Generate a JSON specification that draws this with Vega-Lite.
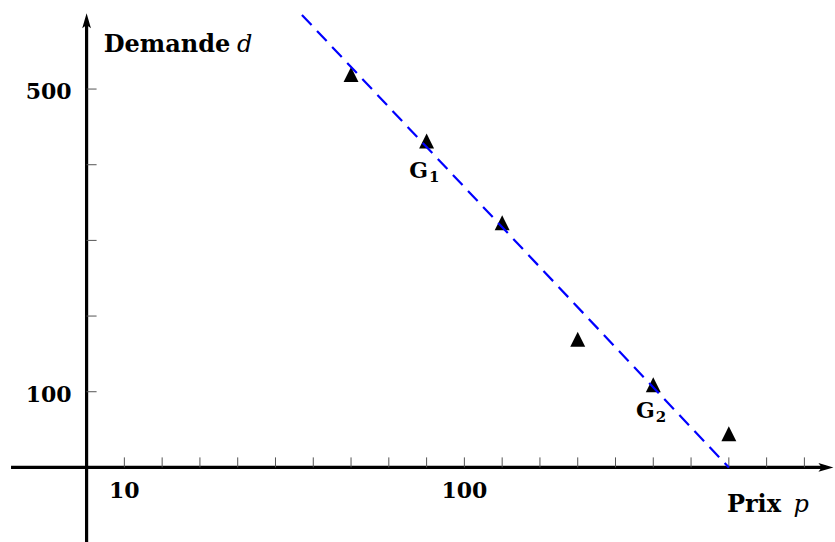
{
  "$schema": "https://vega.github.io/schema/vega-lite/v6.json",
  "width": 835,
  "height": 542,
  "autosize": {"type": "none"},
  "padding": 0,
  "background": "white",
  "config": {"view": {"stroke": null}},
  "datasets": {
    "pts": [
      {"p": 70, "d": 518},
      {"p": 90, "d": 430},
      {"p": 110, "d": 322},
      {"p": 130, "d": 168},
      {"p": 150, "d": 108},
      {"p": 170, "d": 43}
    ],
    "fit": [
      {"p": 57, "d": 598},
      {"p": 170, "d": 0}
    ],
    "xaxis": [{"p": -20, "p2": 195.7, "d": 0}],
    "yaxis": [{"p": 0, "d": -99, "d2": 590.2}],
    "xend": [{"p": 195.7, "d": 0}],
    "yend": [{"p": 0, "d": 590.2}],
    "xticks": [
      {"p": 10, "d": 0}, {"p": 20, "d": 0}, {"p": 30, "d": 0}, {"p": 40, "d": 0},
      {"p": 50, "d": 0}, {"p": 60, "d": 0}, {"p": 70, "d": 0}, {"p": 80, "d": 0},
      {"p": 90, "d": 0}, {"p": 100, "d": 0}, {"p": 110, "d": 0}, {"p": 120, "d": 0},
      {"p": 130, "d": 0}, {"p": 140, "d": 0}, {"p": 150, "d": 0}, {"p": 160, "d": 0},
      {"p": 170, "d": 0}, {"p": 180, "d": 0}, {"p": 190, "d": 0}
    ],
    "yticks": [
      {"p": 0, "d": 100}, {"p": 0, "d": 200}, {"p": 0, "d": 300},
      {"p": 0, "d": 400}, {"p": 0, "d": 500}
    ],
    "xlabels": [{"p": 10, "d": 0, "t": "10"}, {"p": 100, "d": 0, "t": "100"}],
    "ylabels": [{"p": 0, "d": 100, "t": "100"}, {"p": 0, "d": 500, "t": "500"}],
    "gpts": [
      {"p": 90, "d": 423.3, "g": "G", "s": "1"},
      {"p": 150, "d": 106.3, "g": "G", "s": "2"}
    ]
  },
  "encoding": {
    "x": {"field": "p", "type": "quantitative", "scale": {"domain": [-22.92, 198.1], "nice": false, "zero": false}, "axis": null},
    "y": {"field": "d", "type": "quantitative", "scale": {"domain": [-98.6, 617.7], "nice": false, "zero": false}, "axis": null}
  },
  "layer": [
    {"data": {"name": "xaxis"}, "mark": {"type": "rule", "color": "black", "strokeWidth": 3.2}, "encoding": {"x2": {"field": "p2"}}},
    {"data": {"name": "yaxis"}, "mark": {"type": "rule", "color": "black", "strokeWidth": 3.2}, "encoding": {"y2": {"field": "d2"}}},
    {"data": {"name": "xticks"}, "mark": {"type": "point", "shape": "M0,0L0,-1", "size": 400, "filled": false, "color": "#555555", "strokeWidth": 1, "opacity": 1}},
    {"data": {"name": "yticks"}, "mark": {"type": "point", "shape": "M0,0L1,0", "size": 400, "filled": false, "color": "#555555", "strokeWidth": 1, "opacity": 1}},
    {"data": {"name": "yend"}, "mark": {"type": "point", "shape": "M0,-1L0.58,1L0,0.56L-0.58,1Z", "size": 225, "filled": true, "color": "black", "opacity": 1, "strokeWidth": 0}},
    {"data": {"name": "xend"}, "mark": {"type": "point", "shape": "M1,0L-1,0.58L-0.56,0L-1,-0.58Z", "size": 225, "filled": true, "color": "black", "opacity": 1, "strokeWidth": 0}},
    {"data": {"name": "pts"}, "mark": {"type": "point", "shape": "M0,-1L0.88,0.76L-0.88,0.76Z", "size": 289, "filled": true, "color": "black", "opacity": 1, "strokeWidth": 0}},
    {"data": {"name": "fit"}, "mark": {"type": "line", "color": "#0000ff", "strokeWidth": 2.2, "strokeDash": [14, 8]}, "encoding": {}},
    {"data": {"name": "xlabels"}, "mark": {"type": "text", "font": "DejaVu Serif", "fontWeight": "bold", "fontSize": 22, "align": "center", "baseline": "alphabetic", "dy": 31, "color": "black"}, "encoding": {"text": {"field": "t"}}},
    {"data": {"name": "ylabels"}, "mark": {"type": "text", "font": "DejaVu Serif", "fontWeight": "bold", "fontSize": 22, "align": "right", "baseline": "alphabetic", "dx": -15, "dy": 10, "color": "black"}, "encoding": {"text": {"field": "t"}}},
    {"data": {"name": "yend"}, "mark": {"type": "text", "text": "Demande", "font": "DejaVu Serif", "fontWeight": "bold", "fontSize": 24, "align": "left", "baseline": "alphabetic", "dx": 17.2, "dy": 31.5, "color": "black"}},
    {"data": {"name": "yend"}, "mark": {"type": "text", "text": "d", "font": "DejaVu Serif", "fontStyle": "italic", "fontWeight": "normal", "fontSize": 24, "align": "left", "baseline": "alphabetic", "dx": 150.5, "dy": 31.5, "color": "black"}},
    {"data": {"name": "xend"}, "mark": {"type": "text", "text": "Prix", "font": "DejaVu Serif", "fontWeight": "bold", "fontSize": 24, "align": "left", "baseline": "alphabetic", "dx": -99, "dy": 44.3, "color": "black"}},
    {"data": {"name": "xend"}, "mark": {"type": "text", "text": "p", "font": "DejaVu Serif", "fontStyle": "italic", "fontWeight": "normal", "fontSize": 24, "align": "left", "baseline": "alphabetic", "dx": -32.5, "dy": 44.3, "color": "black"}},
    {"data": {"name": "gpts"}, "mark": {"type": "text", "font": "DejaVu Serif", "fontWeight": "bold", "fontSize": 22, "align": "left", "baseline": "alphabetic", "dx": -17.3, "dy": 31, "color": "black"}, "encoding": {"text": {"field": "g"}}},
    {"data": {"name": "gpts"}, "mark": {"type": "text", "font": "DejaVu Serif", "fontWeight": "bold", "fontSize": 15, "align": "left", "baseline": "alphabetic", "dx": 2.5, "dy": 34.6, "color": "black"}, "encoding": {"text": {"field": "s"}}}
  ]
}
